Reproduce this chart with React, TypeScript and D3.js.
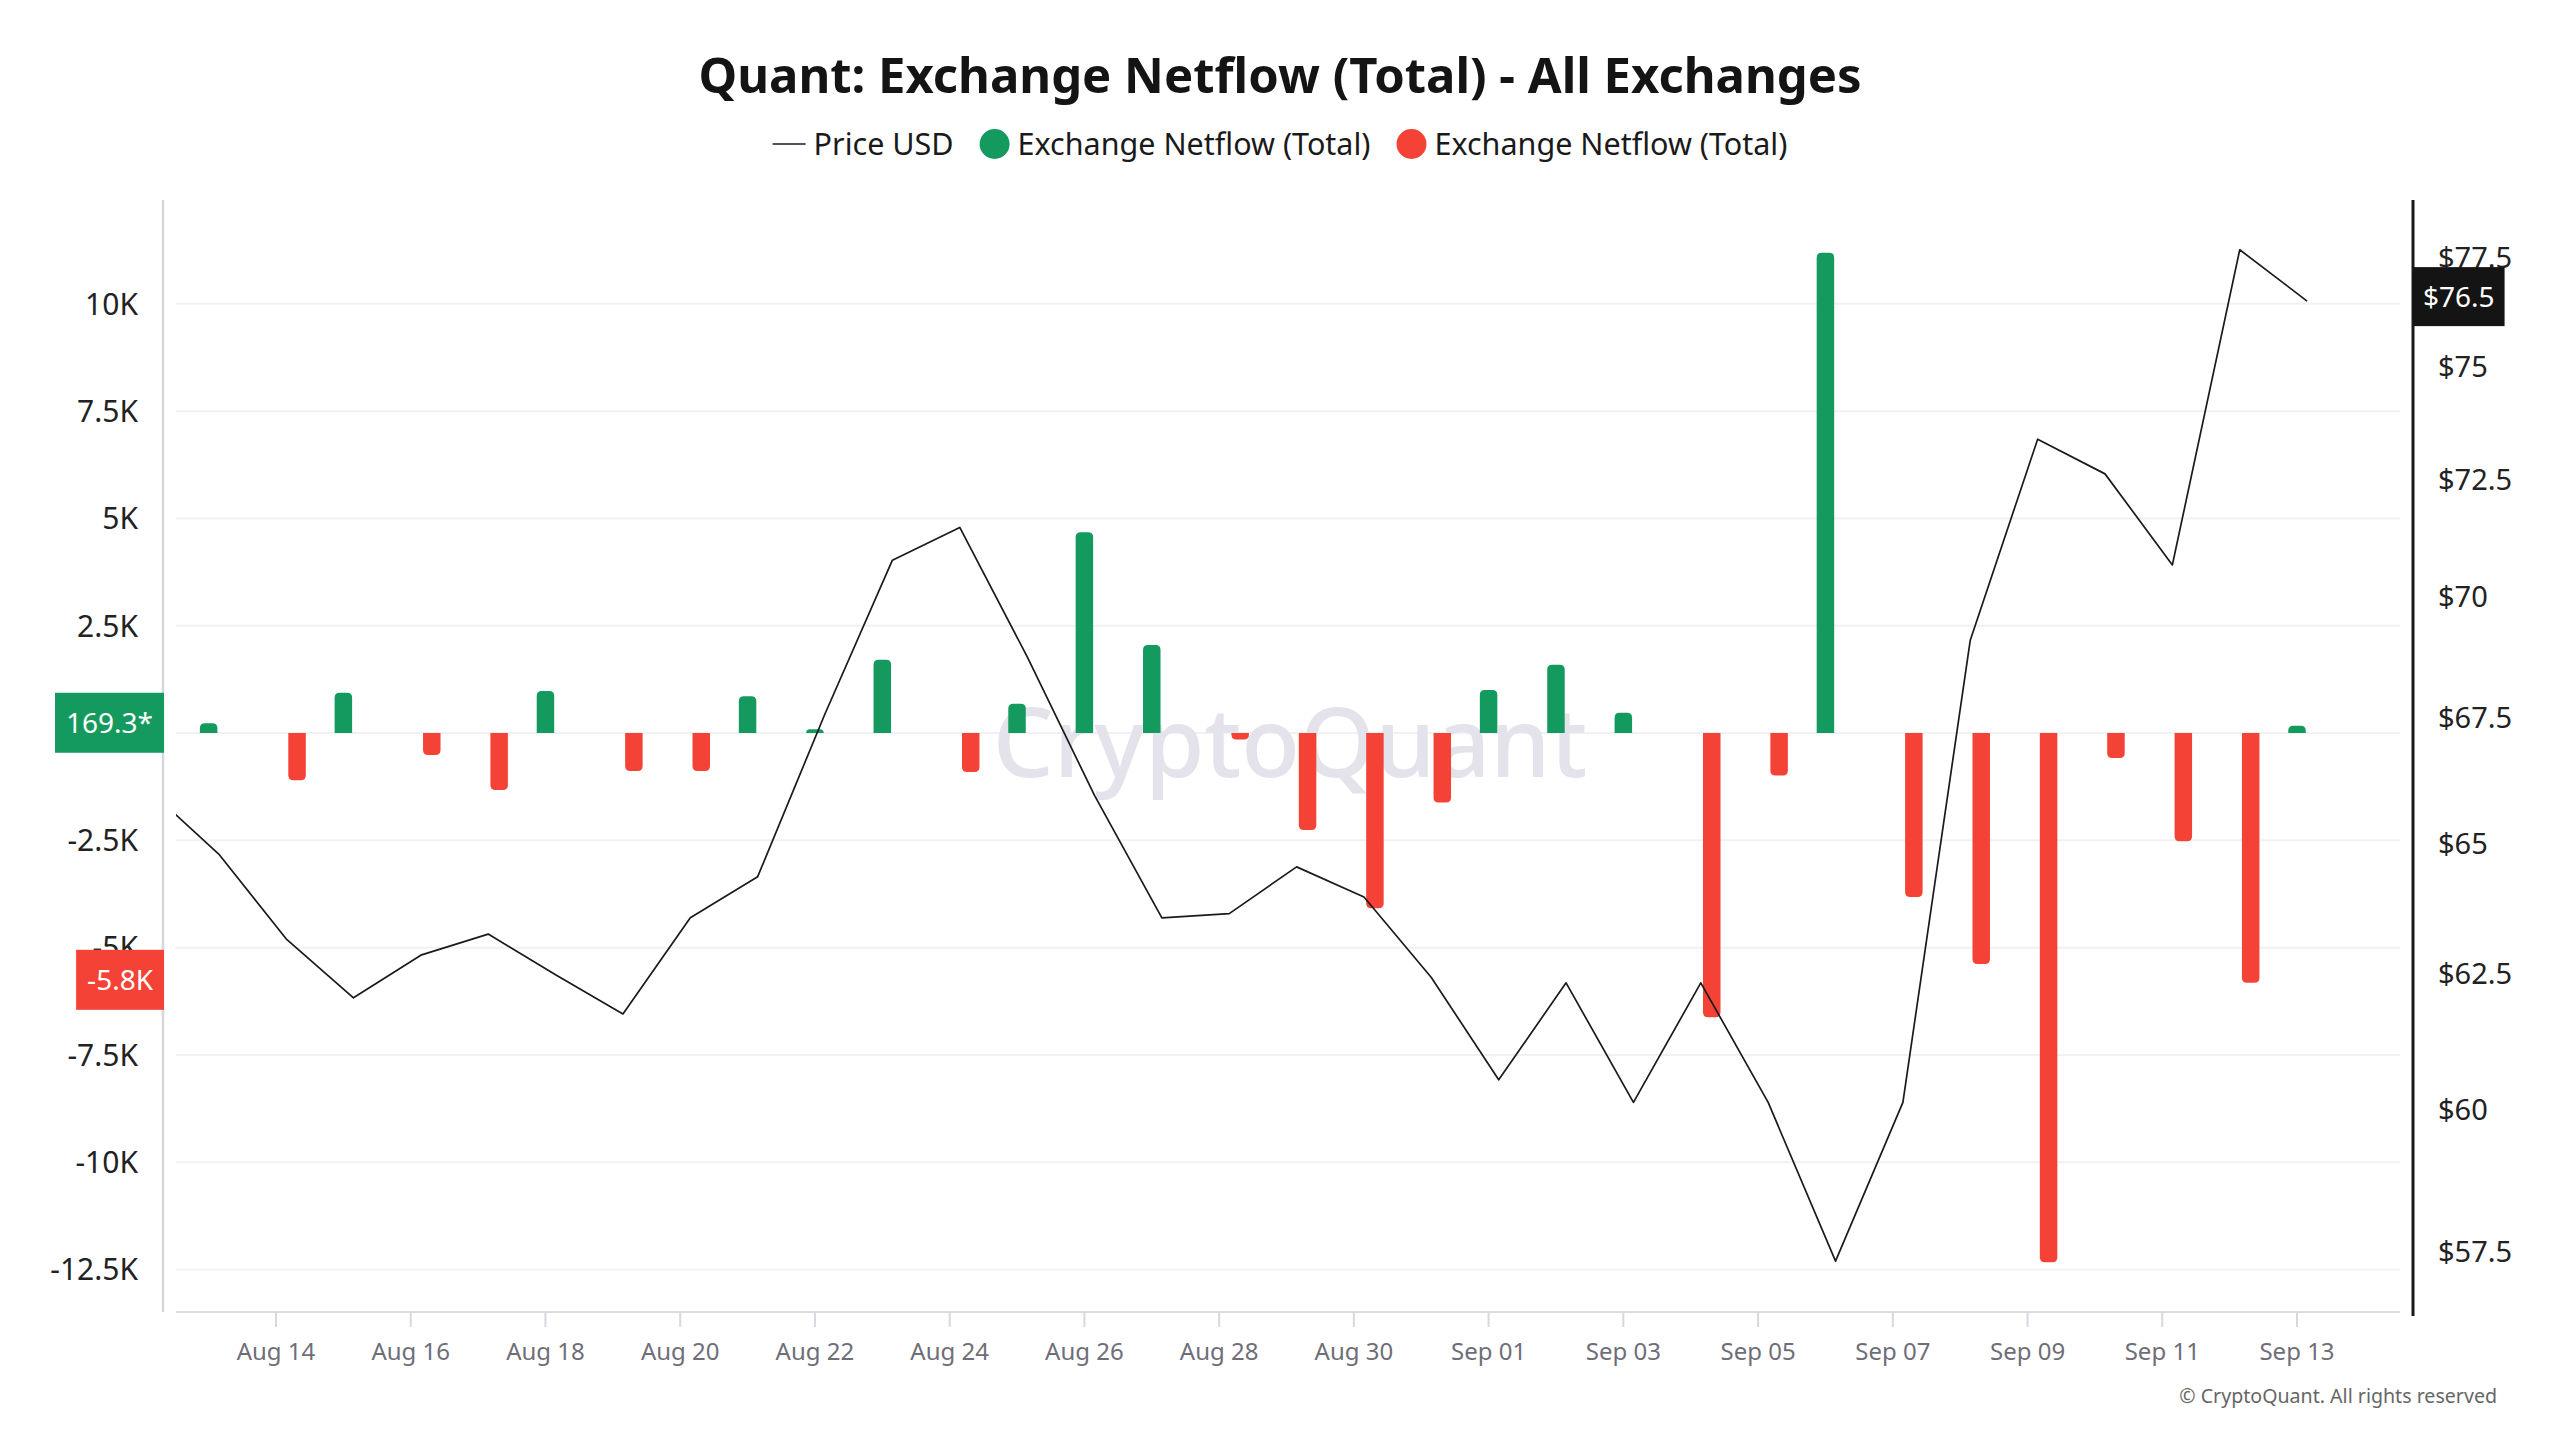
import React, { useEffect, useRef } from 'react';
import * as d3 from 'd3';

// daily exchange netflow (QNT), Aug 13 - Sep 13 2024
const netflowDates = [
  '2024-08-13', '2024-08-14', '2024-08-15', '2024-08-16', '2024-08-17', '2024-08-18',
  '2024-08-19', '2024-08-20', '2024-08-21', '2024-08-22', '2024-08-23', '2024-08-24',
  '2024-08-25', '2024-08-26', '2024-08-27', '2024-08-28', '2024-08-29', '2024-08-30',
  '2024-08-31', '2024-09-01', '2024-09-02', '2024-09-03', '2024-09-04', '2024-09-05',
  '2024-09-06', '2024-09-07', '2024-09-08', '2024-09-09', '2024-09-10', '2024-09-11',
  '2024-09-12', '2024-09-13',
];
const netflowValues = [
  230, -1100, 940, -510, -1330, 980,
  -885, -885, 860, 86, 1710, -910,
  680, 4680, 2050, -150, -2260, -4080,
  -1620, 1000, 1590, 470, -6620, -990,
  11190, -3820, -5380, -12330, -580, -2520,
  -5820, 169.3,
];

const priceDates = [
  '2024-08-12', '2024-08-13', '2024-08-14', '2024-08-15', '2024-08-16', '2024-08-17',
  '2024-08-18', '2024-08-19', '2024-08-20', '2024-08-21', '2024-08-22', '2024-08-23',
  '2024-08-24', '2024-08-25', '2024-08-26', '2024-08-27', '2024-08-28', '2024-08-29',
  '2024-08-30', '2024-08-31', '2024-09-01', '2024-09-02', '2024-09-03', '2024-09-04',
  '2024-09-05', '2024-09-06', '2024-09-07', '2024-09-08', '2024-09-09', '2024-09-10',
  '2024-09-11', '2024-09-12', '2024-09-13',
];
const priceValues = [
  66.0, 64.79, 63.16, 62.05, 62.85, 63.25,
  62.48, 61.75, 63.56, 64.35, 67.58, 70.77,
  71.47, 68.75, 65.94, 63.56, 63.64, 64.54,
  63.96, 62.43, 60.54, 62.33, 60.13, 62.33,
  60.13, 57.33, 60.13, 69.09, 73.39, 72.63,
  70.67, 77.69, 76.5,
];

const netflowTicks = [-12500, -10000, -7500, -5000, -2500, 0, 2500, 5000, 7500, 10000];
const priceTicks = [57.5, 60, 62.5, 65, 67.5, 70, 72.5, 75, 77.5];
const dateTicks = [
  '2024-08-14', '2024-08-16', '2024-08-18', '2024-08-20', '2024-08-22', '2024-08-24',
  '2024-08-26', '2024-08-28', '2024-08-30', '2024-09-01', '2024-09-03', '2024-09-05',
  '2024-09-07', '2024-09-09', '2024-09-11', '2024-09-13',
];

const GREEN = '#149a5e';
const RED = '#f44336';
const FONT = "'Noto Sans', sans-serif";

const W = 2560;
const H = 1440;
const plot = { left: 176, right: 2400, top: 200, bottom: 1312 };

const parse = d3.utcParse('%Y-%m-%d');
const hours = (d: Date, h: number) => new Date(+d + h * 3600e3);

const fmtK = (v: number) => (v === 0 ? '0' : `${v / 1000}K`);
const fmtBadge = (v: number) =>
  (Math.abs(v) >= 1000 ? `${d3.format('.1f')(v / 1000)}K` : `${d3.format('.1f')(v)}*`).replace('−', '-');

// bar with rounded corners on the value end only
function barPath(cx: number, w: number, y0: number, y1: number, r: number) {
  const h = Math.abs(y1 - y0);
  const rr = Math.min(r, h, w / 2);
  const l = cx - w / 2;
  const rt = cx + w / 2;
  const s = y1 < y0 ? 1 : -1;
  return `M${l},${y0}V${y1 + s * rr}Q${l},${y1} ${l + rr},${y1}H${rt - rr}Q${rt},${y1} ${rt},${y1 + s * rr}V${y0}Z`;
}

const App: React.FC = () => {
  const ref = useRef<SVGSVGElement | null>(null);

  useEffect(() => {
    document.body.style.margin = '0';
    if (ref.current) draw();
  }, []);

  const draw = () => {
    const svg = d3.select(ref.current);
    svg.selectAll('*').remove();

    const x = d3.scaleUtc()
      .domain([parse('2024-08-14')!, parse('2024-09-13')!])
      .range([276, 2297]);
    const yL = d3.scaleLinear().domain([-13490, 12420]).range([plot.bottom, plot.top]);
    const yR = d3.scaleLog().domain([56.46, 78.86]).range([plot.bottom, plot.top]);

    svg.append('rect').attr('width', W).attr('height', H).attr('fill', '#fff');

    svg.append('defs').append('clipPath').attr('id', 'plot-clip')
      .append('rect')
      .attr('x', plot.left).attr('y', plot.top)
      .attr('width', plot.right - plot.left).attr('height', plot.bottom - plot.top);

    // title
    svg.append('text')
      .attr('x', W / 2).attr('y', 93)
      .attr('text-anchor', 'middle')
      .attr('font-family', FONT).attr('font-weight', 700).attr('font-size', 49)
      .attr('fill', '#141414')
      .text('Quant: Exchange Netflow (Total) - All Exchanges');

    // legend, centred
    const legend = svg.append('g').attr('font-family', FONT).attr('font-size', 30.5).attr('fill', '#1a1a1a');
    const items = [
      { label: 'Price USD', kind: 'line', color: '#1a1a1a' },
      { label: 'Exchange Netflow (Total)', kind: 'dot', color: GREEN },
      { label: 'Exchange Netflow (Total)', kind: 'dot', color: RED },
    ];
    const ly = 144;
    const parts: { g: any; w: number }[] = [];
    items.forEach(it => {
      const g = legend.append('g');
      const sw = it.kind === 'line' ? 33 : 30;
      if (it.kind === 'line') {
        g.append('line').attr('x1', 0).attr('x2', sw).attr('y1', 0).attr('y2', 0)
          .attr('stroke', it.color).attr('stroke-width', 1.5);
      } else {
        g.append('circle').attr('cx', sw / 2).attr('cy', 0).attr('r', sw / 2).attr('fill', it.color);
      }
      const t = g.append('text').attr('x', sw + 8).attr('dy', '0.35em').text(it.label);
      const tw = (t.node() as SVGTextElement).getComputedTextLength();
      parts.push({ g, w: sw + 8 + tw });
    });
    const gap = 26;
    const total = d3.sum(parts, p => p.w) + gap * (parts.length - 1);
    let cursor = W / 2 - total / 2;
    parts.forEach(p => {
      p.g.attr('transform', `translate(${cursor},${ly})`);
      cursor += p.w + gap;
    });

    // grid
    svg.append('g').selectAll('line').data(netflowTicks).join('line')
      .attr('x1', plot.left).attr('x2', plot.right)
      .attr('y1', d => yL(d)).attr('y2', d => yL(d))
      .attr('stroke', '#f1f1f3').attr('stroke-width', 2);

    // watermark
    svg.append('text')
      .attr('x', 1290).attr('y', 743)
      .attr('dy', '0.35em')
      .attr('text-anchor', 'middle')
      .attr('font-family', FONT).attr('font-weight', 500).attr('font-size', 96)
      .attr('fill', '#e4e3eb')
      .text('CryptoQuant');

    // bars
    const flows = netflowDates.map((d, i) => ({ date: parse(d)!, value: netflowValues[i] }));
    const barW = 17.5;
    const barX = (d: { date: Date; value: number }) =>
      d.value >= 0 ? x(d.date) : x(hours(d.date, 7.5));
    svg.append('g').attr('clip-path', 'url(#plot-clip)')
      .selectAll('path').data(flows).join('path')
      .attr('d', d => barPath(barX(d), barW, yL(0), yL(d.value), 5))
      .attr('fill', d => (d.value >= 0 ? GREEN : RED));

    // price line
    const prices = priceDates.map((d, i) => ({ date: parse(d)!, value: priceValues[i] }));
    const line = d3.line<{ date: Date; value: number }>()
      .x(d => x(hours(d.date, 3.6)))
      .y(d => yR(d.value));
    svg.append('path').datum(prices)
      .attr('clip-path', 'url(#plot-clip)')
      .attr('d', line)
      .attr('fill', 'none')
      .attr('stroke', '#1a1a1a')
      .attr('stroke-width', 1.7)
      .attr('stroke-linejoin', 'round');

    // left axis
    svg.append('line')
      .attr('x1', 163).attr('x2', 163).attr('y1', plot.top).attr('y2', plot.bottom)
      .attr('stroke', '#d6d6de').attr('stroke-width', 2.5);
    svg.append('g').selectAll('text').data(netflowTicks.filter(d => d !== 0)).join('text')
      .attr('x', 138).attr('y', d => yL(d)).attr('dy', '0.36em')
      .attr('text-anchor', 'end')
      .attr('font-family', FONT).attr('font-size', 30).attr('fill', '#222')
      .text(fmtK);

    // bottom axis
    svg.append('line')
      .attr('x1', plot.left).attr('x2', plot.right).attr('y1', plot.bottom).attr('y2', plot.bottom)
      .attr('stroke', '#dcdce2').attr('stroke-width', 2);
    const ticks = dateTicks.map(d => parse(d)!);
    const xt = svg.append('g').selectAll('g').data(ticks).join('g')
      .attr('transform', d => `translate(${x(d)},0)`);
    xt.append('line').attr('y1', plot.bottom).attr('y2', plot.bottom + 15)
      .attr('stroke', '#d8d8de').attr('stroke-width', 2);
    xt.append('text').attr('y', 1352).attr('dy', '0.35em')
      .attr('text-anchor', 'middle')
      .attr('font-family', FONT).attr('font-size', 24).attr('fill', '#6e6e78')
      .text(d => d3.utcFormat('%b %d')(d));

    // right axis
    svg.append('line')
      .attr('x1', 2413).attr('x2', 2413).attr('y1', plot.top).attr('y2', plot.bottom + 4)
      .attr('stroke', '#1a1a1a').attr('stroke-width', 3);
    svg.append('g').selectAll('text').data(priceTicks).join('text')
      .attr('x', 2438).attr('y', d => yR(d)).attr('dy', '0.36em')
      .attr('font-family', FONT).attr('font-size', 29).attr('fill', '#222')
      .text(d => `$${d}`);

    // last value badges
    const lastGreen = flows.filter(d => d.value >= 0).slice(-1)[0];
    const lastRed = flows.filter(d => d.value < 0).slice(-1)[0];
    const badge = (value: number, label: string, fill: string) => {
      const g = svg.append('g');
      const r = g.append('rect').attr('fill', fill);
      const t = g.append('text')
        .attr('y', yL(value) - 3).attr('dy', '0.36em')
        .attr('text-anchor', 'end').attr('x', 164 - 11)
        .attr('font-family', FONT).attr('font-size', 28).attr('fill', '#fff')
        .text(label);
      const tw = (t.node() as SVGTextElement).getComputedTextLength();
      r.attr('x', 164 - tw - 22).attr('width', tw + 22)
        .attr('y', yL(value) - 33).attr('height', 60);
    };
    badge(lastGreen.value, fmtBadge(lastGreen.value), GREEN);
    badge(lastRed.value, fmtBadge(lastRed.value), RED);

    const lastPrice = priceValues[priceValues.length - 1];
    const pg = svg.append('g');
    const pr = pg.append('rect').attr('fill', '#141414');
    const pt = pg.append('text')
      .attr('x', 2423).attr('y', yR(lastPrice) - 4).attr('dy', '0.36em')
      .attr('font-family', FONT).attr('font-size', 28).attr('fill', '#fff')
      .text(`$${lastPrice}`);
    const ptw = (pt.node() as SVGTextElement).getComputedTextLength();
    pr.attr('x', 2413).attr('width', ptw + 20).attr('y', yR(lastPrice) - 34).attr('height', 59);

    // footer
    svg.append('text')
      .attr('x', 2497).attr('y', 1396).attr('dy', '0.35em')
      .attr('text-anchor', 'end')
      .attr('font-family', FONT).attr('font-size', 19.6).attr('fill', '#666')
      .text('© CryptoQuant. All rights reserved');
  };

  return <svg ref={ref} width={W} height={H} style={{ display: 'block' }}></svg>;
};

export default App;
